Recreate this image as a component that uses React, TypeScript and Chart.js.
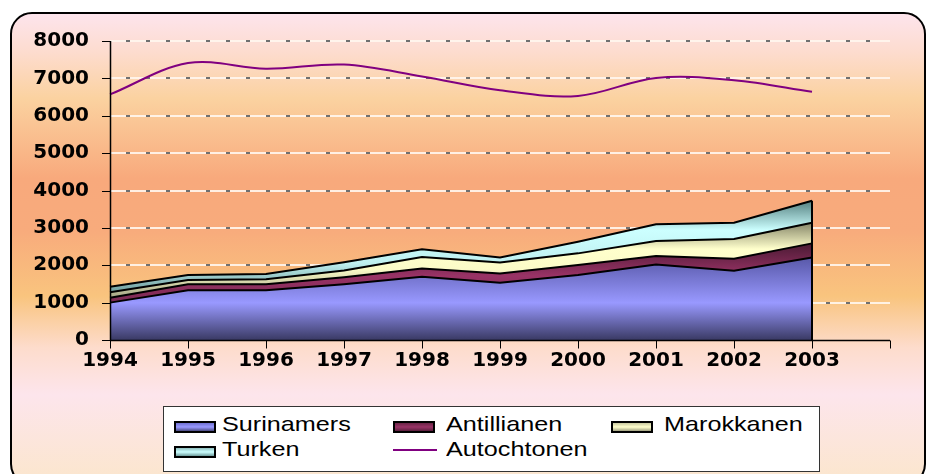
import React, { useEffect, useRef } from 'react';
import { Chart, registerables } from 'chart.js';

Chart.register(...registerables);

// ---- data ----
const years = ['1994', '1995', '1996', '1997', '1998', '1999', '2000', '2001', '2002', '2003'];
const axisLabels = [...years, ''];
const surinamers = [1000, 1330, 1330, 1490, 1690, 1530, 1740, 2020, 1850, 2210];
const antillianen = [130, 160, 160, 190, 220, 250, 265, 226, 324, 375];
const marokkanen = [145, 114, 133, 180, 310, 294, 313, 401, 526, 551];
const turken = [150, 134, 142, 220, 210, 134, 312, 449, 436, 589];
const autochtonen = [6570, 7410, 7260, 7370, 7050, 6680, 6530, 7010, 6950, 6640];
const yTicks = [0, 1000, 2000, 3000, 4000, 5000, 6000, 7000, 8000];
const seriesNames = ['Surinamers', 'Antillianen', 'Marokkanen', 'Turken', 'Autochtonen'];

const areaSeries = [surinamers, antillianen, marokkanen, turken];

function cumulative(level: number): number[] {
  return years.map((_, i) => areaSeries.slice(0, level + 1).reduce((s, arr) => s + arr[i], 0));
}

type Stop = [number, string];
const purpleStops: Stop[] = [[0, '#5858a8'], [0.55, '#9999ff'], [1, '#3a3a64']];
const maroonStops: Stop[] = [[0, '#4a1a33'], [0.55, '#993366'], [1, '#7a2952']];
const tanStops: Stop[] = [[0, '#858568'], [0.35, '#ffffcc'], [0.62, '#fbfbc8'], [1, '#a5a585']];
const tealStops: Stop[] = [[0, '#558080'], [0.32, '#ccffff'], [0.68, '#bff0f0'], [1, '#6e9c9c']];
const stopsList = [purpleStops, maroonStops, tanStops, tealStops];

function makeFill(level: number) {
  return (ctx: any) => {
    const chart = ctx.chart;
    const y = chart.scales && chart.scales.y;
    if (!chart.chartArea || !y) return stopsList[level][1][1];
    const top = cumulative(level);
    const bottom = level === 0 ? years.map(() => 0) : cumulative(level - 1);
    const yTop = y.getPixelForValue(Math.max(...top));
    const yBot = y.getPixelForValue(Math.min(...bottom));
    const g = chart.ctx.createLinearGradient(0, yTop, 0, yBot);
    stopsList[level].forEach(([o, c]) => g.addColorStop(o, c));
    return g;
  };
}

const decor = {
  id: 'decor',
  beforeDatasetsDraw(chart: any) {
    const { ctx, chartArea: a, scales } = chart;
    const y = scales.y;
    ctx.save();
    yTicks.forEach((v) => {
      if (v === 0) return;
      const py = Math.round(y.getPixelForValue(v));
      ctx.setLineDash([]);
      ctx.strokeStyle = 'rgba(255,246,238,0.9)';
      ctx.lineWidth = 2;
      ctx.beginPath();
      ctx.moveTo(a.left, py);
      ctx.lineTo(a.right, py);
      ctx.stroke();
      ctx.setLineDash([4, 16]);
      ctx.lineDashOffset = -16;
      ctx.strokeStyle = '#707070';
      ctx.beginPath();
      ctx.moveTo(a.left, py);
      ctx.lineTo(a.right - 14, py);
      ctx.stroke();
    });
    ctx.restore();
  },
  afterDatasetsDraw(chart: any) {
    const { ctx, chartArea: a, scales } = chart;
    const x = scales.x;
    const y = scales.y;
    ctx.save();
    ctx.setLineDash([]);
    const last = years.length - 1;
    const total = cumulative(3)[last];
    const ex = Math.round(x.getPixelForValue(last));
    ctx.strokeStyle = '#000';
    ctx.lineWidth = 2;
    ctx.beginPath();
    ctx.moveTo(ex, y.getPixelForValue(0));
    ctx.lineTo(ex, y.getPixelForValue(total));
    ctx.stroke();
    ctx.lineWidth = 1.5;
    const y0 = Math.round(y.getPixelForValue(0)) + 0.5;
    ctx.beginPath();
    ctx.moveTo(a.left, y0);
    ctx.lineTo(a.right, y0);
    ctx.moveTo(a.left + 0.5, a.top);
    ctx.lineTo(a.left + 0.5, y0);
    ctx.stroke();
    ctx.lineWidth = 1;
    yTicks.forEach((v) => {
      const py = Math.round(y.getPixelForValue(v)) + 0.5;
      ctx.beginPath();
      ctx.moveTo(a.left - 8, py);
      ctx.lineTo(a.left, py);
      ctx.stroke();
    });
    axisLabels.forEach((_, i) => {
      const px = Math.round(x.getPixelForValue(i)) + 0.5;
      ctx.beginPath();
      ctx.moveTo(px, y0);
      ctx.lineTo(px, y0 + 8);
      ctx.stroke();
    });
    ctx.restore();
  },
};

const legendFont = '"Liberation Sans", Arial, sans-serif';

function Swatch({ left, top, bg }: { left: number; top: number; bg: string }) {
  return (
    <div
      style={{
        position: 'absolute',
        left,
        top,
        width: 38,
        height: 8,
        border: '2px solid #000',
        background: bg,
      }}
    />
  );
}

function LegendText({ left, top, text }: { left: number; top: number; text: string }) {
  return (
    <div
      style={{
        position: 'absolute',
        left,
        top,
        fontFamily: legendFont,
        fontSize: 21,
        lineHeight: '21px',
        color: '#000',
        whiteSpace: 'nowrap',
        transform: 'scaleX(1.2)',
        transformOrigin: 'left center',
      }}
    >
      {text}
    </div>
  );
}

export default function App() {
  const ref = useRef<HTMLCanvasElement>(null);

  useEffect(() => {
    document.body.style.margin = '0';
    const canvas = ref.current!;
    const chart = new Chart(canvas, {
      type: 'line',
      data: {
        labels: axisLabels,
        datasets: [
          {
            label: seriesNames[4],
            data: autochtonen,
            stack: 'line',
            borderColor: '#800080',
            borderWidth: 2,
            pointRadius: 0,
            tension: 0.35,
            fill: false,
          },
          {
            label: seriesNames[0],
            data: surinamers,
            stack: 'areas',
            borderColor: '#000',
            borderWidth: 2,
            pointRadius: 0,
            tension: 0,
            fill: 'origin',
            backgroundColor: makeFill(0),
          },
          {
            label: seriesNames[1],
            data: antillianen,
            stack: 'areas',
            borderColor: '#000',
            borderWidth: 2,
            pointRadius: 0,
            tension: 0,
            fill: '-1',
            backgroundColor: makeFill(1),
          },
          {
            label: seriesNames[2],
            data: marokkanen,
            stack: 'areas',
            borderColor: '#000',
            borderWidth: 2,
            pointRadius: 0,
            tension: 0,
            fill: '-1',
            backgroundColor: makeFill(2),
          },
          {
            label: seriesNames[3],
            data: turken,
            stack: 'areas',
            borderColor: '#000',
            borderWidth: 2,
            pointRadius: 0,
            tension: 0,
            fill: '-1',
            backgroundColor: makeFill(3),
          },
        ],
      },
      options: {
        responsive: false,
        animation: false,
        layout: { padding: { top: 41, right: 37, left: 0, bottom: 0 } },
        plugins: { legend: { display: false }, tooltip: { enabled: false } },
        scales: {
          x: {
            type: 'category',
            offset: false,
            grid: { display: false, drawTicks: false },
            border: { display: false },
            ticks: {
              autoSkip: false,
              maxRotation: 0,
              padding: 9,
              color: '#000',
              font: { family: '"DejaVu Sans", sans-serif', size: 20, weight: 'bold' },
            },
            afterFit: (s: any) => {
              s.height = 134;
            },
          },
          y: {
            stacked: true,
            min: 0,
            max: 8000,
            grid: { display: false, drawTicks: false },
            border: { display: false },
            ticks: {
              stepSize: 1000,
              padding: 21,
              color: '#000',
              font: { family: '"DejaVu Sans", sans-serif', size: 20, weight: 'bold' },
              callback: (v: any) => String(v),
            },
            afterFit: (s: any) => {
              s.width = 110;
            },
          },
        },
      },
      plugins: [decor],
    });
    return () => chart.destroy();
  }, []);

  const rows = [421, 446];
  return (
    <div style={{ position: 'relative', width: 927, height: 474, overflow: 'hidden', background: '#fff' }}>
      <div
        style={{
          position: 'absolute',
          left: 10,
          top: 12,
          width: 912,
          height: 470,
          border: '2px solid #000',
          borderRadius: 22,
          background:
            'linear-gradient(180deg, #fde4ec 0%, #fddccf 8%, #fbd2a0 18%, #f8a97c 35%, #f8ab7c 46%, #f9c47e 60%, #fddccc 71%, #fde5ec 81%, #fbe6cc 100%)',
        }}
      />
      <canvas
        ref={ref}
        width={927}
        height={474}
        style={{ position: 'absolute', left: 0, top: 0, width: 927, height: 474 }}
      />
      <div
        style={{
          position: 'absolute',
          left: 163,
          top: 406,
          width: 655,
          height: 64,
          background: '#fff',
          border: '1px solid #333',
        }}
      />
      <Swatch left={174} top={rows[0]} bg="linear-gradient(180deg,#7070d0,#9999ff 50%,#4a4a80)" />
      <LegendText left={222} top={413} text={seriesNames[0]} />
      <Swatch left={393} top={rows[0]} bg="linear-gradient(180deg,#6a2446,#993366 50%,#5a1e3c)" />
      <LegendText left={446} top={413} text={seriesNames[1]} />
      <Swatch left={611} top={rows[0]} bg="linear-gradient(180deg,#c8c8a0,#ffffcc 50%,#a0a080)" />
      <LegendText left={664} top={413} text={seriesNames[2]} />
      <Swatch left={174} top={rows[1]} bg="linear-gradient(180deg,#90c0c0,#ccffff 50%,#6e9c9c)" />
      <LegendText left={222} top={438} text={seriesNames[3]} />
      <div style={{ position: 'absolute', left: 393, top: 449, width: 44, height: 2, background: '#800080' }} />
      <LegendText left={446} top={438} text={seriesNames[4]} />
    </div>
  );
}
